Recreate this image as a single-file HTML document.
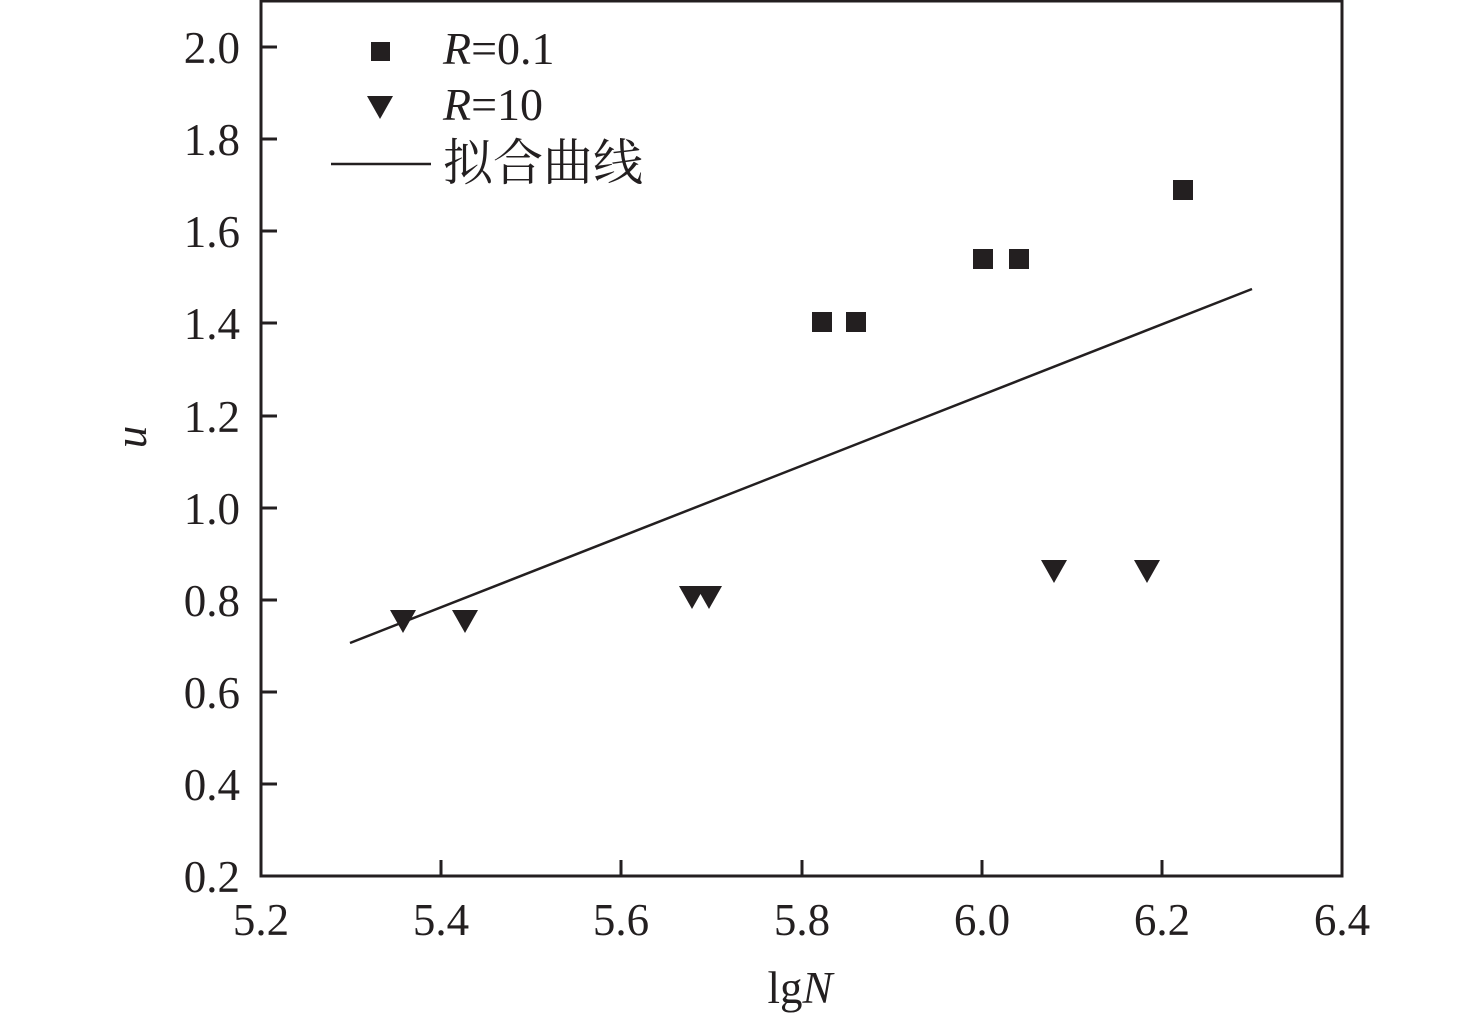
<!DOCTYPE html>
<html><head><meta charset="utf-8"><style>body{margin:0;background:#fff} svg{font-family:"Liberation Serif","Noto Serif CJK SC",serif}</style></head><body>
<svg width="1476" height="1020" xmlns="http://www.w3.org/2000/svg" fill="#231f20">
<rect x="261" y="1" width="1081" height="875" fill="none" stroke="#231f20" stroke-width="3"/>
<g stroke="#231f20" stroke-width="3">
<line x1="441" y1="876" x2="441" y2="860"/><line x1="621" y1="876" x2="621" y2="860"/><line x1="802" y1="876" x2="802" y2="860"/><line x1="982" y1="876" x2="982" y2="860"/><line x1="1162" y1="876" x2="1162" y2="860"/>
<line x1="261" y1="784" x2="277" y2="784"/><line x1="261" y1="692" x2="277" y2="692"/><line x1="261" y1="600" x2="277" y2="600"/><line x1="261" y1="508" x2="277" y2="508"/><line x1="261" y1="416" x2="277" y2="416"/><line x1="261" y1="323" x2="277" y2="323"/><line x1="261" y1="231" x2="277" y2="231"/><line x1="261" y1="139" x2="277" y2="139"/><line x1="261" y1="47" x2="277" y2="47"/>
<line x1="350" y1="643" x2="1252" y2="289" stroke-width="2.5"/>
<line x1="331" y1="164" x2="431" y2="164" stroke-width="2.5"/>
</g>
<g font-size="45" text-anchor="end">
<text x="240" y="892">0.2</text><text x="240" y="800">0.4</text><text x="240" y="708">0.6</text><text x="240" y="616">0.8</text><text x="240" y="524">1.0</text><text x="240" y="432">1.2</text><text x="240" y="339">1.4</text><text x="240" y="247">1.6</text><text x="240" y="155">1.8</text><text x="240" y="63">2.0</text>
</g>
<g font-size="45" text-anchor="middle">
<text x="261" y="935">5.2</text><text x="441" y="935">5.4</text><text x="621" y="935">5.6</text><text x="802" y="935">5.8</text><text x="982" y="935">6.0</text><text x="1162" y="935">6.2</text><text x="1342" y="935">6.4</text>
<text x="800" y="1003">lg<tspan font-style="italic">N</tspan></text>
</g>
<text x="146" y="437" font-size="45" font-style="italic" text-anchor="middle" transform="rotate(-90 146 437)">u</text>
<g>
<rect x="812" y="312" width="20" height="20"/><rect x="846" y="312" width="20" height="20"/><rect x="973" y="249" width="20" height="20"/><rect x="1009" y="249" width="20" height="20"/><rect x="1173" y="180" width="20" height="20"/>
<rect x="371" y="42" width="19" height="19"/>
</g>
<g>
<polygon points="390,610 416,610 403,633"/><polygon points="452,610 478,610 465,633"/><polygon points="679,586 705,586 692,609"/><polygon points="696,586 722,586 709,609"/><polygon points="1041,560 1067,560 1054,583"/><polygon points="1134,560 1160,560 1147,583"/>
<polygon points="367,96 393,96 380,119"/>
</g>
<g font-size="46">
<text x="443" y="64"><tspan font-style="italic">R</tspan>=0.1</text>
<text x="443" y="120"><tspan font-style="italic">R</tspan>=10</text>
<text x="443" y="180" style="font-family:'Noto Serif CJK SC',serif" font-size="50">拟合曲线</text>
</g>
</svg>
</body></html>
